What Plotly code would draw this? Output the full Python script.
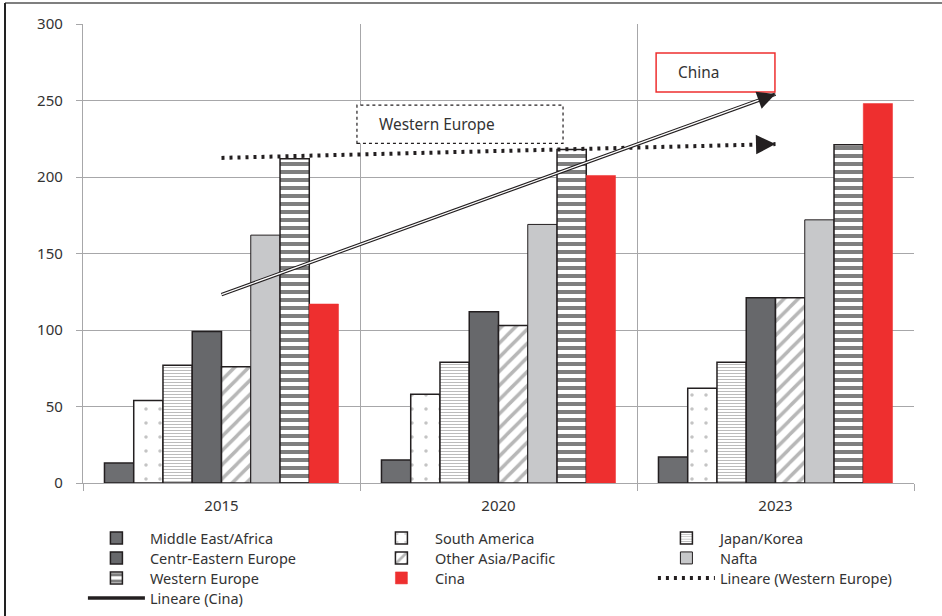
import numpy as np
import plotly.graph_objects as go

years = ["2015", "2020", "2023"]
series_names = ["Middle East/Africa", "South America", "Japan/Korea", "Centr-Eastern Europe",
                "Other Asia/Pacific", "Nafta", "Western Europe", "Cina"]
middle_east_africa = [13, 15, 17]
south_america = [54, 58, 62]
japan_korea = [77, 79, 79]
centr_eastern_europe = [99, 112, 121]
other_asia_pacific = [76, 103, 121]
nafta = [162, 169, 172]
western_europe = [212, 218, 221]
cina = [117, 201, 248]
y_ticks = [0, 50, 100, 150, 200, 250, 300]

values = [middle_east_africa, south_america, japan_korea, centr_eastern_europe,
          other_asia_pacific, nafta, western_europe, cina]

OUT = "#231f20"
styles = [
    dict(color="#6d6e71", line=dict(color=OUT, width=1.5)),
    dict(color="white", line=dict(color=OUT, width=1.5),
         pattern=dict(shape=".", fgcolor="#8a8a8a", bgcolor="white", size=14, solidity=0.05)),
    dict(color="white", line=dict(color=OUT, width=1.5),
         pattern=dict(shape="-", fgcolor="#7a7a7a", bgcolor="white", size=3, solidity=0.34)),
    dict(color="#67686b", line=dict(color=OUT, width=1.5)),
    dict(color="white", line=dict(color=OUT, width=1.5),
         pattern=dict(shape="/", fgcolor="#707070", bgcolor="white", size=10, solidity=0.35)),
    dict(color="#c7c8ca", line=dict(color=OUT, width=1)),
    dict(color="white", line=dict(color=OUT, width=1.5),
         pattern=dict(shape="-", fgcolor="#000000", bgcolor="white", size=8, solidity=0.5)),
    dict(color="#ee2f2f", line=dict(color="#ee2f2f", width=0.5)),
]
# legend row for each entry (3 entries per row, like the reference)
legend_rows = ["legend", "legend", "legend", "legend2", "legend2", "legend2",
               "legend3", "legend3"]

fig = go.Figure()
for name, vals, st, lg in zip(series_names, values, styles, legend_rows):
    fig.add_trace(go.Bar(x=years, y=vals, name=name, marker=st, legend=lg))

# linear trend lines
idx = np.arange(len(years))
we_fit = np.polyval(np.polyfit(idx, western_europe, 1), idx)
cn_fit = np.polyval(np.polyfit(idx, cina, 1), idx)
ends = [0, len(years) - 1]

fig.add_trace(go.Scatter(x=[years[i] for i in ends], y=[we_fit[i] for i in ends], mode="lines",
                         name="Lineare (Western Europe)", legend="legend3",
                         line=dict(color="#231f20", width=4, dash="3px,5px")))
fig.add_trace(go.Scatter(x=[years[i] for i in ends], y=[cn_fit[i] for i in ends], mode="lines",
                         name="Lineare (Cina)", legendgroup="cn", legend="legend4",
                         line=dict(color="#231f20", width=3.5)))
fig.add_trace(go.Scatter(x=[years[i] for i in ends], y=[cn_fit[i] for i in ends], mode="lines",
                         showlegend=False, legendgroup="cn", hoverinfo="skip", legend="legend4",
                         line=dict(color="white", width=1.3)))

# arrowheads
last = len(years) - 1
we_slope = we_fit[1] - we_fit[0]
cn_slope = cn_fit[1] - cn_fit[0]
fig.add_annotation(x=last, y=we_fit[last], ax=last - 0.05, ay=we_fit[last] - 0.05 * we_slope,
                   xref="x", yref="y", axref="x", ayref="y", text="", showarrow=True,
                   arrowhead=2, arrowsize=1.3, arrowwidth=3, arrowcolor="#231f20")
fig.add_annotation(x=last, y=cn_fit[last], ax=last - 0.05, ay=cn_fit[last] - 0.05 * cn_slope,
                   xref="x", yref="y", axref="x", ayref="y", text="", showarrow=True,
                   arrowhead=2, arrowsize=1.2, arrowwidth=3, arrowcolor="#231f20")

# label boxes
fig.add_shape(type="rect", xref="x", yref="y", x0=0.489, x1=1.233, y0=222, y1=247,
              line=dict(color="#231f20", width=1.2, dash="dot"), fillcolor="white", layer="above")
fig.add_annotation(x=0.561, y=234.5, xref="x", yref="y", text="Western Europe", showarrow=False,
                   xanchor="left", font=dict(size=15.4, color="#333333"))
fig.add_shape(type="rect", xref="x", yref="y", x0=1.569, x1=1.998, y0=255.5, y1=281,
              line=dict(color="#ee2f2f", width=1.5), fillcolor="white", layer="above")
fig.add_annotation(x=1.641, y=268, xref="x", yref="y", text="China", showarrow=False,
                   xanchor="left", font=dict(size=15.4, color="#333333"))

# outer frame lines
fig.add_shape(type="line", xref="paper", yref="paper", x0=-78/831, x1=859/831, y0=(483-3)/459, y1=(483-3)/459,
              line=dict(color="#555555", width=1.5))
fig.add_shape(type="line", xref="paper", yref="paper", x0=-78/831, x1=-78/831, y0=(483-3)/459, y1=-133/459,
              line=dict(color="#222222", width=2))

GRID = "#a7a7a9"
PH = 459.0


def legend_row(yc):
    return dict(orientation="h", x=-0.0001, xanchor="left", y=(483 - yc) / PH, yanchor="middle",
                entrywidth=213, itemwidth=57, font=dict(size=14.5, color="#333333"),
                traceorder="normal", bgcolor="rgba(0,0,0,0)")


fig.update_layout(
    width=942, height=616,
    margin=dict(l=83, r=28, t=24, b=133, autoexpand=False),
    paper_bgcolor="white", plot_bgcolor="white",
    barmode="group", bargap=0.155, bargroupgap=0,
    font=dict(family="Noto Sans", size=15, color="#333333"),
    showlegend=True,
    legend=legend_row(538),
    legend2=legend_row(558),
    legend3=legend_row(578),
    legend4=legend_row(598),
    xaxis=dict(type="category", tickson="boundaries", showgrid=True, gridcolor=GRID, gridwidth=1.3,
               ticks="outside", ticklen=7, tickcolor=GRID, showline=True, linecolor=GRID, linewidth=1.3,
               range=[-0.5, 2.5], tickfont=dict(size=15, color="#333333"), ticklabelstandoff=9),
    yaxis=dict(range=[0, 300], tickvals=y_ticks, showgrid=True, gridcolor=GRID, gridwidth=1.3,
               ticks="outside", ticklen=6, tickcolor=GRID, showline=True, linecolor=GRID, linewidth=1.3,
               zeroline=False, tickfont=dict(size=15, color="#333333"), ticklabelstandoff=10),
)

fig.write_html("out.html")
